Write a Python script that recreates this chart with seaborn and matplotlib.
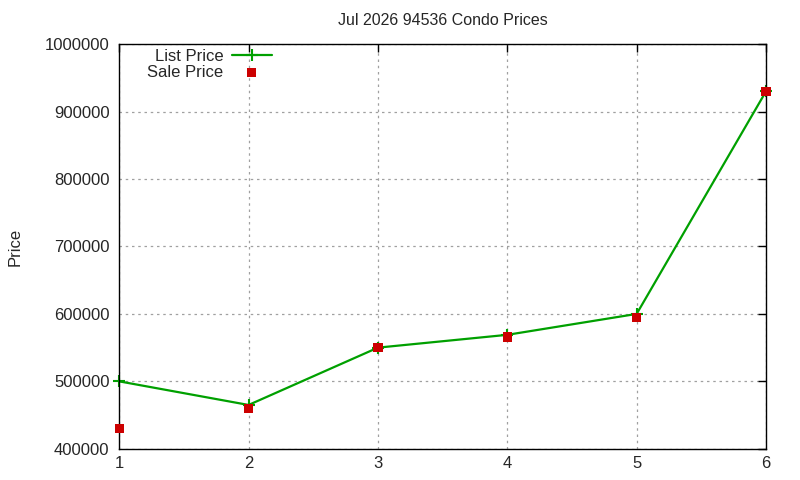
import matplotlib
matplotlib.use("Agg")
import matplotlib.pyplot as plt
import pandas as pd
import seaborn as sns

months = [1, 2, 3, 4, 5, 6]
list_price = [500000, 465000, 550000, 569000, 600000, 930000]
sale_price = [430000, 460000, 550000, 566000, 595000, 930000]

df = pd.DataFrame({"month": months, "list": list_price, "sale": sale_price})

sns.set_style("white")
plt.rcParams["font.family"] = ["Liberation Sans", "DejaVu Sans"]

fig = plt.figure(figsize=(8, 4.8), dpi=100)
ax = fig.add_axes([0.149, 0.065, 0.8085, 0.843])

green = "#00a000"
sns.lineplot(data=df, x="month", y="list", ax=ax, color=green, lw=1.6,
             marker="+", markersize=8, markeredgewidth=1.5, markeredgecolor=green,
             label="List Price", clip_on=False)
sns.scatterplot(data=df, x="month", y="sale", ax=ax, color="#cc0000", marker="s",
                s=45, edgecolor="none", label="Sale Price", zorder=3, clip_on=False)

ax.set_xlim(1, 6)
ax.set_ylim(400000, 1000000)
ax.set_xticks(months)
ax.set_yticks(range(400000, 1000001, 100000))
ax.yaxis.set_major_formatter(matplotlib.ticker.FuncFormatter(lambda v, p: f"{int(v)}"))
ax.grid(True, color="#a0a0a0", linestyle=(0, (2, 3)), lw=0.9)
ax.tick_params(direction="in", length=6, top=True, right=True, labelsize=12,
               color="black", width=1, pad=7)
ax.tick_params(axis="x", pad=5)
for s in ax.spines.values():
    s.set_color("black")
    s.set_linewidth(1)

ax.set_xlabel("")
ax.set_ylabel("Price", fontsize=12, labelpad=16)
ax.set_title("Jul 2026 94536 Condo Prices", fontsize=11.5, pad=14)

ax.legend(loc="upper left", frameon=False, markerfirst=False, fontsize=12,
          bbox_to_anchor=(0.02, 1.025), handlelength=2.4, labelspacing=0.05,
          handletextpad=0.5)

fig.savefig("out.png", dpi=100)
